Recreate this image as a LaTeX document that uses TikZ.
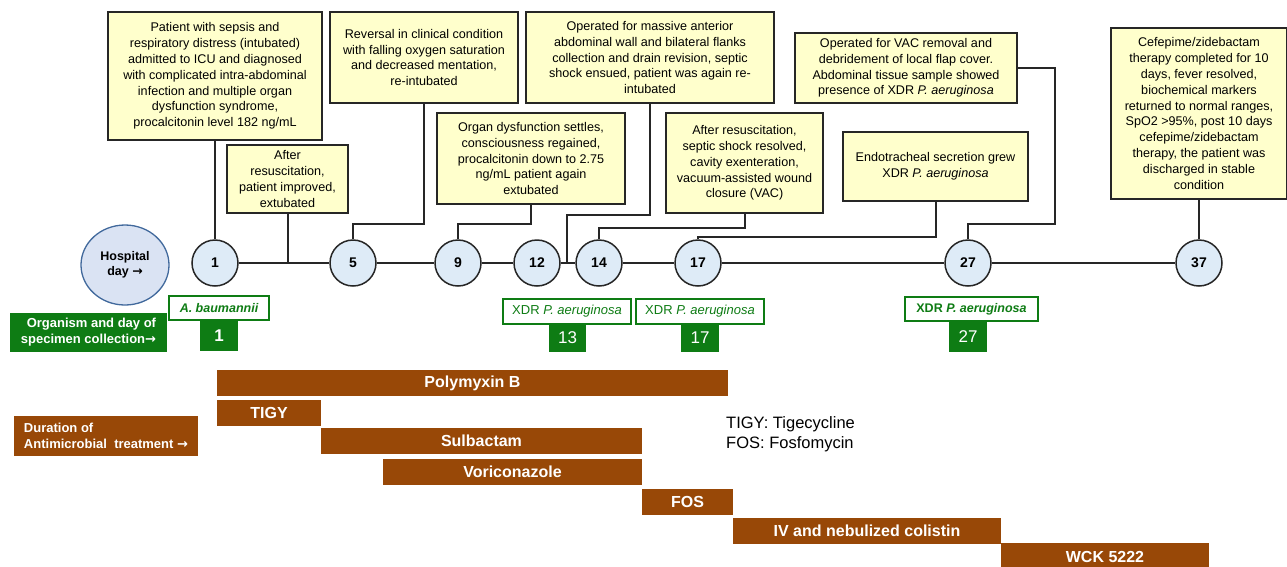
\documentclass[tikz,border=0pt]{standalone}
\usepackage{fontspec}
\setmainfont{Liberation Sans}
\newfontfamily\arrowfont{DejaVu Sans}
\newcommand{\toarrow}{{\arrowfont\char"2192}}
\usetikzlibrary{shapes.geometric}
\definecolor{noteyellow}{RGB}{255,255,204}
\definecolor{dayblue}{RGB}{222,235,247}
\definecolor{hospfill}{RGB}{218,227,243}
\definecolor{hospedge}{RGB}{65,105,156}
\definecolor{germgreen}{RGB}{14,124,20}
\definecolor{drugbrown}{RGB}{152,72,7}
\tikzstyle{event box}=[draw=black!85, line width=1.5pt, fill=noteyellow, align=center, inner sep=2pt, font=\fontsize{12.6}{15.8}\selectfont]
\tikzstyle{day circle}=[draw=black!85, line width=1.5pt, circle, fill=dayblue, minimum size=46pt, inner sep=0pt, font=\fontsize{14}{16}\selectfont\bfseries]
\tikzstyle{day link}=[line width=2pt, black!85]
\tikzstyle{germ box}=[draw=germgreen, line width=1.6pt, fill=white, text=germgreen, inner sep=0pt, font=\fontsize{13}{15}\selectfont]
\tikzstyle{germ day}=[fill=germgreen, text=white, inner sep=0pt, font=\fontsize{17}{19}\selectfont]
\tikzstyle{drug bar}=[fill=drugbrown, text=white, inner sep=0pt, font=\fontsize{16}{18}\selectfont\bfseries]
\tikzstyle{row label}=[text=white, inner sep=0pt, font=\fontsize{13}{16}\selectfont\bfseries]

\begin{document}
\begin{tikzpicture}[x=1pt,y=-1pt]
    \useasboundingbox (0,0) rectangle (1287,566);

    % Clinical notes
    \draw (215,76) node[event box, minimum width=214pt, minimum height=128pt] (ev1)
    {Patient with sepsis and\\respiratory distress (intubated)\\admitted to ICU and diagnosed\\with complicated intra-abdominal\\infection and multiple organ\\dysfunction syndrome,\\procalcitonin level 182 ng/mL};
    \draw (287.5,179) node[event box, minimum width=121pt, minimum height=68pt] (ev2)
    {After\\resuscitation,\\patient improved,\\extubated};
    \draw (424,57.5) node[event box, minimum width=188pt, minimum height=91pt] (ev3)
    {Reversal in clinical condition\\with falling oxygen saturation\\and decreased mentation,\\re-intubated};
    \draw (531,158.5) node[event box, minimum width=188pt, minimum height=91pt] (ev4)
    {Organ dysfunction settles,\\consciousness regained,\\procalcitonin down to 2.75\\ng/mL patient again\\extubated};
    \draw (650,57.5) node[event box, minimum width=248pt, minimum height=91pt] (ev5)
    {Operated for massive anterior\\abdominal wall and bilateral flanks\\collection and drain revision, septic\\shock ensued, patient was again re-\\intubated};
    \draw (744.5,163) node[event box, minimum width=157pt, minimum height=100pt] (ev6)
    {After resuscitation,\\septic shock resolved,\\cavity exenteration,\\vacuum-assisted wound\\closure (VAC)};
    \draw (906,68) node[event box, minimum width=222pt, minimum height=70pt] (ev7)
    {Operated for VAC removal and\\debridement of local flap cover.\\Abdominal tissue sample showed\\presence of XDR \textit{P. aeruginosa}};
    \draw (935.5,166.5) node[event box, minimum width=185pt, minimum height=69pt] (ev8)
    {Endotracheal secretion grew\\XDR \textit{P. aeruginosa}};
    \draw (1199,113.5) node[event box, minimum width=176pt, minimum height=171pt] (ev9)
    {Cefepime/zidebactam\\therapy completed for 10\\days, fever resolved,\\biochemical markers\\returned to normal ranges,\\SpO2 >95\%, post 10 days\\cefepime/zidebactam\\therapy, the patient was\\discharged in stable\\condition};

    % Hospital days
    \draw (125,265) node[ellipse, draw=hospedge, fill=hospfill, line width=1.3pt, minimum width=88pt, minimum height=80pt, inner sep=0pt, align=center, font=\fontsize{12.5}{15}\selectfont\bfseries] (hosp) {Hospital\\day \toarrow};
    \draw (215,263) node[day circle] (d1) {1};
    \draw (353,263) node[day circle] (d5) {5};
    \draw (458,263) node[day circle] (d9) {9};
    \draw (537,263) node[day circle] (d12) {12};
    \draw (599,263) node[day circle] (d14) {14};
    \draw (698,263) node[day circle] (d17) {17};
    \draw (968,263) node[day circle] (d27) {27};
    \draw (1199,263) node[day circle] (d37) {37};
    \coordinate (cross1) at (287.5,263);
    \coordinate (cross2) at (567,263);
    \draw[day link] (d1) -- (d5) -- (d9) -- (d12) -- (d14) -- (d17) -- (d27) -- (d37);

    % Links
    \draw[day link] (ev1.south) -- (d1.north);
    \draw[day link] (ev2.south) -- (cross1);
    \draw[day link] (ev3.south) -- ++(0,120) -| (d5.north);
    \draw[day link] (ev4.south) -- ++(0,19) -| (d9.north);
    \draw[day link] (ev5.south) -- ++(0,111) -| (cross2);
    \draw[day link] (ev6.south) -- ++(0,14) -| (d14.north);
    \draw[day link] (ev8.south) -- ++(0,35) -| (d17.north);
    \draw[day link] (ev7.east) -- ++(37,0) -- ++(0,156) -| (d27.north);
    \draw[day link] (ev9.south) -- (d37.north);

    % Organisms
    \draw (88.5,332.5) node[row label, fill=germgreen, minimum width=157pt, minimum height=39pt, align=right] (orglab) {Organism and day of\\specimen collection\toarrow};
    \draw (219,308) node[germ box, minimum width=100pt, minimum height=24pt, font=\fontsize{12.5}{15}\selectfont\bfseries\itshape] (orgA) {A. baumannii};
    \draw (219,335.5) node[germ day, minimum width=38pt, minimum height=31pt, font=\fontsize{17}{19}\selectfont\bfseries] (n1) {1};
    \draw (567,311.5) node[germ box, minimum width=128pt, minimum height=25pt] (org13) {XDR \textit{P. aeruginosa}};
    \draw (567.5,338) node[germ day, minimum width=37pt, minimum height=28pt] (n13) {13};
    \draw (700,311.5) node[germ box, minimum width=128pt, minimum height=25pt] (org17) {XDR \textit{P. aeruginosa}};
    \draw (700,338) node[germ day, minimum width=38pt, minimum height=28pt] (n17) {17};
    \draw (971.5,309) node[germ box, minimum width=133pt, minimum height=24pt, font=\fontsize{12.5}{15}\selectfont\bfseries] (org27) {XDR \textit{P. aeruginosa}};
    \draw (968,336.5) node[germ day, minimum width=38pt, minimum height=31pt] (n27) {27};

    % Antimicrobials
    \draw (106,436) node[row label, fill=drugbrown, minimum width=184pt, minimum height=40pt, align=left] (druglab) {Duration of\\Antimicrobial\ \ treatment \toarrow};
    \draw (472.5,383) node[drug bar, minimum width=511pt, minimum height=26pt] (polyb) {Polymyxin B};
    \draw (269,413) node[drug bar, minimum width=104pt, minimum height=26pt] (tigy) {TIGY};
    \draw (481.5,441) node[drug bar, minimum width=321pt, minimum height=26pt] (sulb) {Sulbactam};
    \draw (512.5,472) node[drug bar, minimum width=259pt, minimum height=26pt] (vori) {Voriconazole};
    \draw (687.5,502) node[drug bar, minimum width=91pt, minimum height=26pt] (fos) {FOS};
    \draw (867,531) node[drug bar, minimum width=268pt, minimum height=26pt] (coli) {IV and nebulized colistin};
    \draw (1105,556.5) node[drug bar, minimum width=208pt, minimum height=27pt] (wck) {WCK 5222};

    % Abbreviations
    \draw (726,428) node[anchor=base west, inner sep=0pt, font=\fontsize{16.5}{20}\selectfont] (leg1) {TIGY: Tigecycline};
    \draw (726,448) node[anchor=base west, inner sep=0pt, font=\fontsize{16.5}{20}\selectfont] (leg2) {FOS: Fosfomycin};

\end{tikzpicture}
\end{document}
